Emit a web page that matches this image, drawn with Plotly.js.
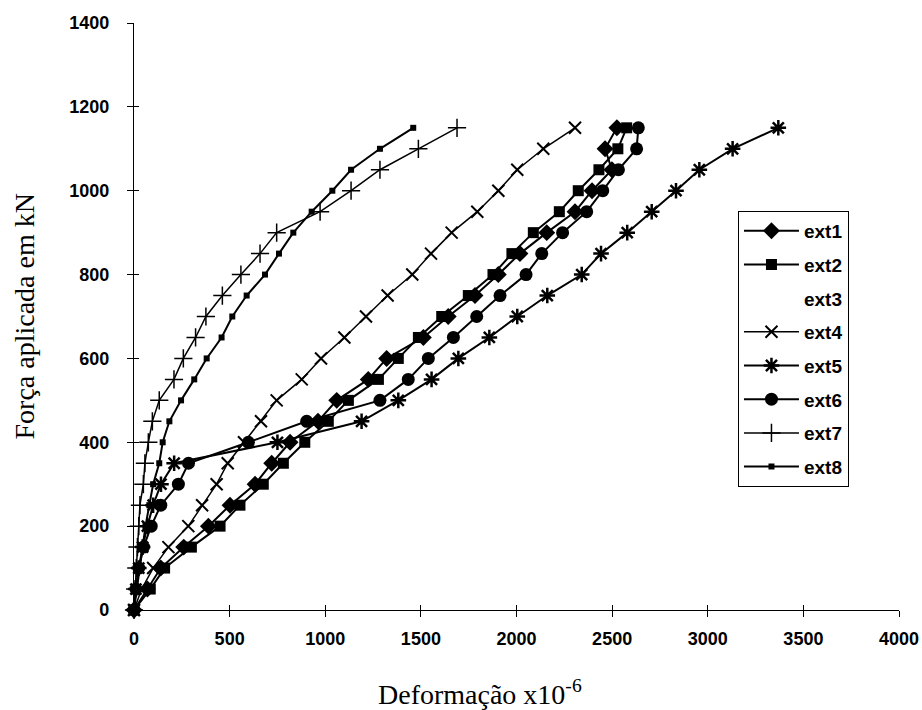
<!DOCTYPE html>
<html><head><meta charset="utf-8">
<script src="https://cdn.plot.ly/plotly-3.0.1.min.js"></script>
<style>html,body{margin:0;padding:0;background:#fff}#chart{width:922px;height:710px}</style>
</head><body><div id="chart"></div>
<script>
// Applied load (kN), shared by all gauges
const forca = [0,50,100,150,200,250,300,350,400,450,500,550,600,650,700,750,800,850,900,950,1000,1050,1100,1150];
// Strain readings (x10^-6) per gauge
const ext1 = [0,70,140,260,389,502,633,720,816,962,1060,1225,1321,1513,1643,1783,1905,2018,2158,2306,2395,2499,2463,2525];
const ext2 = [0,85,160,300,450,554,676,781,893,1016,1121,1278,1382,1487,1609,1748,1877,1976,2088,2224,2323,2431,2530,2576];
const ext3 = [];
const ext4 = [0,40,100,180,284,356,432,490,575,664,746,877,978,1100,1213,1326,1455,1553,1661,1795,1905,2004,2140,2306];
const ext5 = [0,10,25,45,70,100,141,210,750,1190,1382,1556,1696,1858,2004,2161,2341,2442,2579,2707,2834,2956,3130,3369];
const ext6 = [0,10,25,50,90,140,232,285,598,903,1286,1434,1539,1670,1792,1914,2050,2132,2241,2367,2451,2533,2628,2637];
const ext7 = [0,6,12,18,25,31,49,57,75,96,132,209,258,322,376,462,559,659,746,973,1135,1286,1487,1689];
const ext8 = [0,15,30,45,60,80,100,132,150,185,246,315,380,458,514,589,685,758,833,929,1037,1135,1286,1460];

const xTicks = [0,500,1000,1500,2000,2500,3000,3500,4000];
const yTicks = [0,200,400,600,800,1000,1200,1400];

const names = ['ext1','ext2','ext3','ext4','ext5','ext6','ext7','ext8'];
const series = [ext1,ext2,ext3,ext4,ext5,ext6,ext7,ext8];
const styles = [
  {symbol:'diamond', size:13, lw:2, mlw:0},
  {symbol:'square', size:11, lw:2, mlw:0},
  null,
  {symbol:'x-thin-open', size:12, lw:1.5, mlw:2},
  {symbol:'asterisk-open', size:13, lw:2, mlw:2.5},
  {symbol:'circle', size:13, lw:2, mlw:0},
  {symbol:'cross-thin-open', size:13, lw:1.5, mlw:1.5},
  {symbol:'square', size:6, lw:2, mlw:0}
];

const traces = names.map((n,i) => {
  const s = styles[i];
  if (!s) {
    return {x:[null], y:[null], name:n, legendgroup:n, mode:'lines', type:'scatter',
            line:{color:'rgba(0,0,0,0)', width:0}, hoverinfo:'skip'};
  }
  return {
    x: series[i], y: forca.slice(0, series[i].length), name:n, legendgroup:n,
    type:'scatter', mode:'lines+markers', cliponaxis:false,
    line:{color:'#000', width:s.lw},
    marker:{symbol:s.symbol, size:s.size, color:'#000', line:{color:'#000', width:s.mlw}}
  };
});
// helper trace for the inner tick marks
traces.push({x:[null], y:[null], xaxis:'x2', yaxis:'y2', showlegend:false, hoverinfo:'skip', type:'scatter', mode:'markers'});

const tickFont = {family:'Liberation Sans, Arial, sans-serif', size:18, color:'#000', weight:'bold'};
const serif = {family:'Liberation Serif, Times New Roman, serif', size:28, color:'#000'};

const layout = {
  width:922, height:710,
  margin:{l:134, r:23, t:23, b:100},
  paper_bgcolor:'#fff', plot_bgcolor:'#fff',
  showlegend:true,
  xaxis:{range:[0,4000], tickvals:xTicks, ticktext:xTicks.map(String), showline:true, linecolor:'#000', linewidth:1.2,
         ticks:'outside', ticklen:6, tickcolor:'#000', tickwidth:1, showgrid:false, zeroline:false,
         tickfont:tickFont, ticklabelstandoff:6, fixedrange:true},
  yaxis:{range:[0,1400], tickvals:yTicks, ticktext:yTicks.map(String), showline:true, linecolor:'#000', linewidth:1.2,
         ticks:'outside', ticklen:6, tickcolor:'#000', tickwidth:1, showgrid:false, zeroline:false,
         tickfont:tickFont, ticklabelstandoff:14, fixedrange:true},
  xaxis2:{overlaying:'x', anchor:'y2', side:'bottom', range:[0,4000], tickvals:xTicks, ticks:'inside', ticklen:5,
          tickcolor:'#000', showticklabels:false, showgrid:false, zeroline:false, showline:false},
  yaxis2:{overlaying:'y', anchor:'x2', side:'left', range:[0,1400], tickvals:yTicks, ticks:'inside', ticklen:5,
          tickcolor:'#000', showticklabels:false, showgrid:false, zeroline:false, showline:false},
  legend:{x:0.7895, y:0.68, xanchor:'left', yanchor:'top', bgcolor:'#fff', bordercolor:'#000', borderwidth:1,
          font:{family:'Liberation Sans, Arial, sans-serif', size:19, color:'#000', weight:'bold'},
          tracegroupgap:6, traceorder:'grouped', itemwidth:55},
  annotations:[
    {text:'Deformação x10<sup>-6</sup>', xref:'paper', yref:'paper', x:0.452, y:-0.14, xanchor:'center', yanchor:'middle',
     showarrow:false, font:serif},
    {text:'Força aplicada em kN', xref:'paper', yref:'paper', x:-0.1425, y:0.5, xanchor:'center', yanchor:'middle',
     textangle:-90, showarrow:false, font:serif}
  ]
};

Plotly.newPlot('chart', traces, layout, {displayModeBar:false, staticPlot:true});
</script>
</body></html>
